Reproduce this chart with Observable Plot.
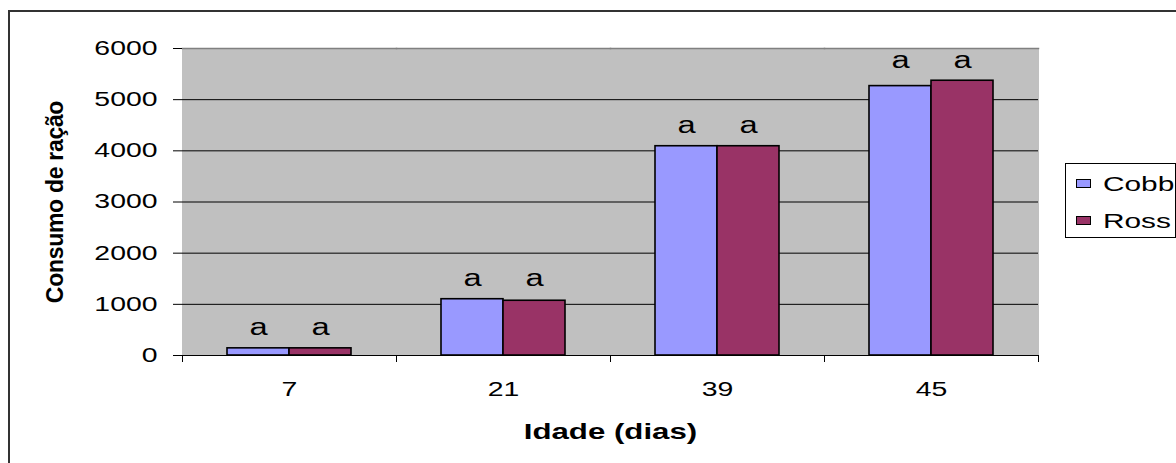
<!DOCTYPE html>
<html>
<head>
<meta charset="utf-8">
<script src="https://cdn.jsdelivr.net/npm/d3@7"></script>
<script src="https://cdn.jsdelivr.net/npm/@observablehq/plot@0.6"></script>
<style>
  html, body { margin: 0; padding: 0; background: #fff; overflow: hidden; width: 1176px; height: 463px; }
  #wrap { position: relative; width: 1176px; height: 463px; font-family: "Liberation Sans", Arial, sans-serif; overflow: hidden; }
  #border { position: absolute; left: 8px; top: 10px; width: 1300px; height: 600px; border: 2px solid #333; box-sizing: border-box; }
  #chart { position: absolute; left: 0; top: 0; }
  #legend { position: absolute; left: 1065px; top: 163px; width: 111px; height: 75px; border: 1px solid #000; background: #fff; box-sizing: border-box; }
  .sw { position: absolute; left: 10px; width: 15px; height: 9px; border: 1px solid #000; box-sizing: border-box; }
  .lt { position: absolute; left: 37px; font-size: 21px; line-height: 1; color: #000; transform: scaleX(1.42); transform-origin: left center; white-space: nowrap; }
  svg [aria-label="fx-axis label"] text { font-weight: bold; font-size: 22px; }
  svg [aria-label="y-axis label"] text { font-weight: bold; font-size: 23px; letter-spacing: -0.3px; }
</style>
</head>
<body>
<div id="wrap">
  <div id="border"></div>
  <div id="chart"></div>
  <div id="legend"></div>
</div>
<script>
// ---- data ----
const ages = ["7", "21", "39", "45"];
const series = ["Cobb", "Ross"];
const cobb = [140, 1100, 4090, 5265];
const ross = [140, 1070, 4090, 5370];
const cobbLetters = ["a", "a", "a", "a"];
const rossLetters = ["a", "a", "a", "a"];
const yTicks = [0, 1000, 2000, 3000, 4000, 5000, 6000];
const colors = ["#9999ff", "#993366"];

const rows = [];
ages.forEach((a, i) => {
  rows.push({age: a, breed: series[0], value: cobb[i], letter: cobbLetters[i]});
  rows.push({age: a, breed: series[1], value: ross[i], letter: rossLetters[i]});
});
const groupMax = {};
ages.forEach((a, i) => { groupMax[a] = Math.max(cobb[i], ross[i]); });

const W = 1176, H = 463;
const mL = 182, mR = 138, mT = 48, mB = 108;
const plotH = H - mT - mB;

const plot = Plot.plot({
  width: W, height: H,
  marginLeft: mL, marginRight: mR, marginTop: mT, marginBottom: mB,
  style: {fontFamily: "'Liberation Sans', Arial, sans-serif", color: "#000", background: "transparent", overflow: "visible"},
  fx: {domain: ages, padding: 0, label: "Idade (dias)", axis: null},
  x: {domain: series, paddingInner: 0, paddingOuter: 0.72, axis: null},
  y: {domain: [0, 6000], axis: null},
  color: {domain: series, range: colors},
  marks: [
    Plot.frame({fill: "#c0c0c0", stroke: null, insetLeft: -0.5, insetRight: -0.5}),
    Plot.ruleY(yTicks.filter(t => t > 0 && t < 6000), {stroke: "#000", strokeWidth: 1}),
    Plot.frame({anchor: "top", stroke: "#808080", strokeWidth: 1.5}),
    Plot.ruleY([0], {stroke: "#000", strokeWidth: 1.2}),
    Plot.frame({anchor: "left", stroke: "#000", insetTop: plotH, insetBottom: -6}),
    Plot.frame({anchor: "right", stroke: "#000", insetTop: plotH, insetBottom: -6}),
    Plot.barY(rows, {fx: "age", x: "breed", y: "value", fill: "breed", stroke: "#000", strokeWidth: 1.6}),
    Plot.text(rows, {fx: "age", x: "breed", y: d => groupMax[d.age], text: "letter", fontSize: 23, lineAnchor: "bottom", dy: -13, fill: "#000"}),
    Plot.axisY({ticks: yTicks, tickFormat: d => String(d), tickSize: 9, tickPadding: 16, fontSize: 20, line: true, stroke: "#000",
      label: "Consumo de ração", labelAnchor: "center", labelArrow: "none", labelOffset: 136}),
    Plot.axisY({anchor: "right", ticks: [], line: true, stroke: "#808080", label: null}),
    Plot.axisFx({anchor: "bottom", tickSize: 0, tickPadding: 26, fontSize: 20, label: "Idade (dias)", labelAnchor: "center", labelArrow: "none", labelOffset: 83})
  ]
});
document.getElementById("chart").appendChild(plot);

// horizontal stretch of horizontal texts (the reference image is widened)
const SX = 1.42;
d3.select(plot).selectAll("text").each(function() {
  if (this.closest('[aria-label="y-axis label"]')) return;
  const x = +this.getAttribute("x") || 0, y = +this.getAttribute("y") || 0;
  const tr = this.getAttribute("transform") || "";
  this.setAttribute("transform", `${tr} translate(${x},${y}) scale(${SX},1) translate(${-x},${-y})`);
});

// legend
const color = plot.scale("color");
const legend = document.getElementById("legend");
const swTops = [15, 52], txtTops = [9.2, 45.7];
series.forEach((s, i) => {
  const sw = document.createElement("div");
  sw.className = "sw"; sw.style.top = swTops[i] + "px"; sw.style.background = color.apply(s);
  legend.appendChild(sw);
  const t = document.createElement("div");
  t.className = "lt"; t.style.top = txtTops[i] + "px"; t.textContent = s;
  legend.appendChild(t);
});
</script>
</body>
</html>
